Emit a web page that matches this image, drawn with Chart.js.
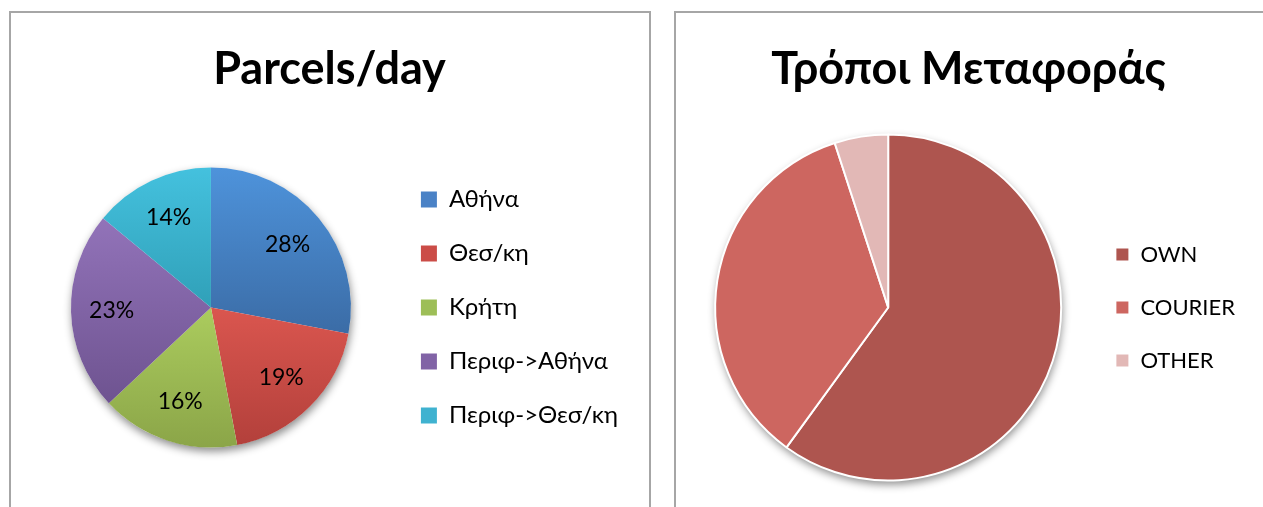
<!DOCTYPE html>
<html>
<head>
<meta charset="utf-8">
<script src="https://cdn.jsdelivr.net/npm/chart.js@4"></script>
<style>
  html, body { margin: 0; padding: 0; background: #fff; overflow: hidden; }
  .box { position: absolute; top: 11px; border: 2px solid #a6a6a6; background: #fff; }
  #box1 { left: 9px; width: 638px; height: 520px; }
  #box2 { left: 674px; width: 620px; height: 520px; }
  canvas { display: block; }
</style>
</head>
<body>
<div class="box" id="box1"><canvas id="parcelsChart" width="638" height="500"></canvas></div>
<div class="box" id="box2"><canvas id="transportChart" width="620" height="500"></canvas></div>
<script>
// Parcels/day (percent of parcels per route)
const parcelLabels = ['Αθήνα', 'Θεσ/κη', 'Κρήτη', 'Περιφ->Αθήνα', 'Περιφ->Θεσ/κη'];
const parcelValues = [28, 19, 16, 23, 14];
const parcelColors = ['#4A82C6', '#CB4C47', '#9DBE57', '#8163A6', '#3FB2D0'];
const parcelLight = ['#4E93DB', '#DA564F', '#ABCC5E', '#9273B9', '#44C1DE'];
const parcelDark = ['#3B6CA6', '#B3403B', '#8BA548', '#6E5390', '#30A0B8'];

// Τρόποι Μεταφοράς
const transportLabels = ['OWN', 'COURIER', 'OTHER'];
const transportValues = [60, 35, 5];
const transportColors = ['#AE554F', '#CD6660', '#E2B8B6'];

const FONT = 'Lato, "Noto Sans", sans-serif';
Chart.defaults.color = '#000';
Chart.defaults.font.family = FONT;

// vertical gradient per slice, like the office chart fill
const sliceGradient = (c, r) => {
  const chart = c.chart;
  const area = chart.chartArea;
  const i = c.dataIndex;
  if (!area) return parcelColors[i];
  const cx = (area.left + area.right) / 2;
  const cy = (area.top + area.bottom) / 2;
  const vals = c.dataset.data;
  const total = vals.reduce((a, b) => a + b, 0);
  let before = 0;
  for (let j = 0; j < i; j++) before += vals[j];
  const a0 = -Math.PI / 2 + before / total * Math.PI * 2;
  const a1 = a0 + vals[i] / total * Math.PI * 2;
  let ymin = cy, ymax = cy;
  for (let k = 0; k <= 40; k++) {
    const y = cy + r * Math.sin(a0 + (a1 - a0) * k / 40);
    ymin = Math.min(ymin, y);
    ymax = Math.max(ymax, y);
  }
  const g = chart.ctx.createLinearGradient(cx, ymin, cx, ymax);
  g.addColorStop(0, parcelLight[i]);
  g.addColorStop(1, parcelDark[i]);
  return g;
};

// soft shadow under the whole pie
const pieShadow = {
  id: 'pieShadow',
  beforeDatasetsDraw(chart) {
    const arc = chart.getDatasetMeta(0).data[0];
    if (!arc) return;
    const {x, y, outerRadius} = arc.getProps(['x', 'y', 'outerRadius'], true);
    const ctx = chart.ctx;
    ctx.save();
    ctx.shadowColor = 'rgba(0,0,0,0.45)';
    ctx.shadowBlur = 9;
    ctx.shadowOffsetY = 4;
    ctx.shadowOffsetX = 1;
    ctx.beginPath();
    ctx.arc(x, y, outerRadius, 0, Math.PI * 2);
    ctx.fillStyle = '#fff';
    ctx.fill();
    ctx.restore();
  }
};

// percent labels inside the slices
const pctLabels = {
  id: 'pctLabels',
  afterDatasetsDraw(chart) {
    const ctx = chart.ctx;
    const meta = chart.getDatasetMeta(0);
    const data = chart.data.datasets[0].data;
    ctx.save();
    ctx.font = '23px ' + FONT;
    ctx.fillStyle = '#000';
    ctx.textAlign = 'center';
    ctx.textBaseline = 'middle';
    meta.data.forEach((arc, i) => {
      const p = arc.getProps(['x', 'y', 'startAngle', 'endAngle', 'outerRadius'], true);
      const mid = (p.startAngle + p.endAngle) / 2;
      const r = p.outerRadius * 0.71;
      ctx.fillText(data[i] + '%', p.x + Math.cos(mid) * r, p.y + Math.sin(mid) * r);
    });
    ctx.restore();
  }
};

const titleOpts = (text) => ({
  display: true,
  text: text,
  color: '#000',
  font: { family: FONT, size: 45, weight: 'bold' },
  padding: { top: 29, bottom: 7 }
});

new Chart(document.getElementById('parcelsChart').getContext('2d'), {
  type: 'pie',
  data: {
    labels: parcelLabels,
    datasets: [{
      data: parcelValues,
      backgroundColor: (c) => c.type === 'data' ? sliceGradient(c, 140) : parcelColors,
      borderWidth: 0,
      hoverOffset: 0
    }]
  },
  options: {
    responsive: false,
    animation: false,
    radius: 140,
    layout: { padding: { left: 20, right: 21, top: 0, bottom: 1 } },
    plugins: {
      title: titleOpts('Parcels/day'),
      tooltip: { enabled: false },
      legend: {
        position: 'right',
        fullSize: false,
        labels: {
          boxWidth: 16,
          boxHeight: 16,
          padding: 30,
          color: '#000',
          font: { family: FONT, size: 24 },
          generateLabels: (chart) => {
            const items = Chart.overrides.pie.plugins.legend.labels.generateLabels(chart);
            items.forEach((it, i) => { it.fillStyle = parcelColors[i]; it.lineWidth = 0; });
            return items;
          }
        }
      }
    }
  },
  plugins: [pieShadow, pctLabels]
});

new Chart(document.getElementById('transportChart').getContext('2d'), {
  type: 'pie',
  data: {
    labels: transportLabels,
    datasets: [{
      data: transportValues,
      backgroundColor: transportColors,
      borderColor: '#fff',
      borderWidth: 2,
      hoverOffset: 0
    }]
  },
  options: {
    responsive: false,
    animation: false,
    radius: 173,
    layout: { padding: { left: 16, right: 51, top: 0, bottom: 1 } },
    plugins: {
      title: titleOpts('Τρόποι Μεταφοράς'),
      tooltip: { enabled: false },
      legend: {
        position: 'right',
        fullSize: false,
        labels: {
          boxWidth: 14,
          boxHeight: 14,
          padding: 31,
          color: '#000',
          font: { family: FONT, size: 22 }
        }
      }
    }
  },
  plugins: [pieShadow]
});
</script>
</body>
</html>
